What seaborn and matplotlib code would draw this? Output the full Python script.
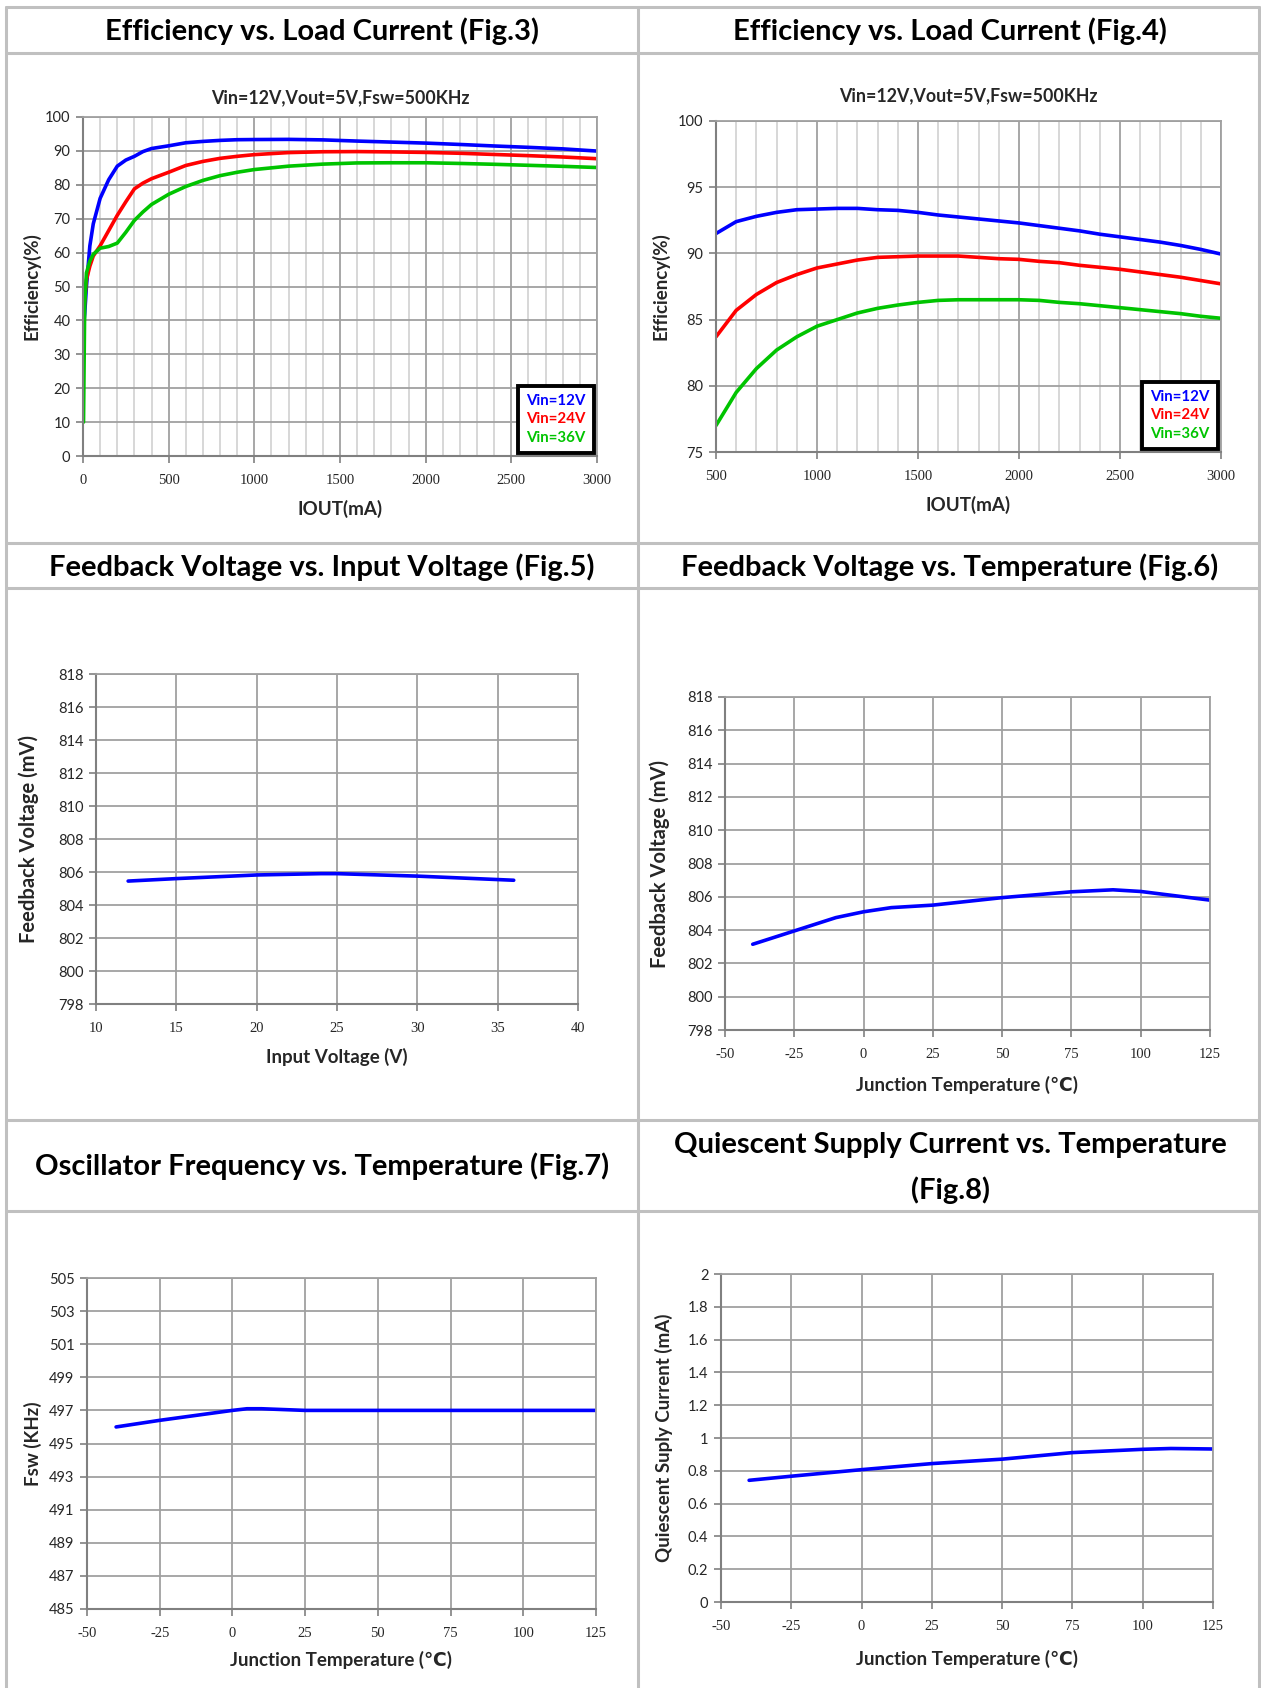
import matplotlib
matplotlib.use('Agg')
import matplotlib.pyplot as plt
import seaborn as sns
from matplotlib.lines import Line2D
from matplotlib.ticker import MultipleLocator, FuncFormatter

# ==========================================
# DATA
# ==========================================
# Fig.3 - efficiency vs load current, full range
iout_fig3 = [3, 10, 20, 40, 60, 100, 150, 200, 250, 300, 350, 400, 500, 600, 700, 800,
             900, 1000, 1200, 1400, 1600, 1800, 2000, 2200, 2400, 2600, 2800, 3000]
eff3_12v = [38, 42, 50, 62, 68.5, 76, 81.5, 85.5, 87.3, 88.4, 89.8, 90.7, 91.5, 92.4, 92.8, 93.1,
            93.3, 93.35, 93.4, 93.25, 92.9, 92.6, 92.3, 91.9, 91.45, 91.05, 90.6, 89.95]
eff3_24v = [40, 46, 52, 56, 59, 62, 66.5, 71, 75, 78.8, 80.5, 81.8, 83.7, 85.7, 86.9, 87.8,
            88.4, 88.9, 89.5, 89.75, 89.8, 89.7, 89.55, 89.3, 88.95, 88.6, 88.2, 87.7]
eff3_36v = [10, 45, 54, 57.5, 59.5, 61.3, 61.8, 62.8, 66, 69.5, 72, 74.2, 77.2, 79.5, 81.3, 82.7,
            83.7, 84.5, 85.5, 86.1, 86.45, 86.5, 86.5, 86.3, 86.05, 85.75, 85.45, 85.1]

# Fig.4 - efficiency vs load current, zoomed 500..3000 mA
iout_fig4 = [500, 600, 700, 800, 900, 1000, 1100, 1200, 1300, 1400, 1500, 1600, 1700,
             1800, 1900, 2000, 2100, 2200, 2300, 2400, 2500, 2600, 2700, 2800, 2900, 3000]
eff4_12v = [91.5, 92.4, 92.8, 93.1, 93.3, 93.35, 93.4, 93.4, 93.3, 93.25, 93.1, 92.9, 92.75,
            92.6, 92.45, 92.3, 92.1, 91.9, 91.7, 91.45, 91.25, 91.05, 90.85, 90.6, 90.3, 89.95]
eff4_24v = [83.7, 85.7, 86.9, 87.8, 88.4, 88.9, 89.2, 89.5, 89.7, 89.75, 89.8, 89.8, 89.8,
            89.7, 89.6, 89.55, 89.4, 89.3, 89.1, 88.95, 88.8, 88.6, 88.4, 88.2, 87.95, 87.7]
eff4_36v = [77.0, 79.5, 81.3, 82.7, 83.7, 84.5, 85.0, 85.5, 85.85, 86.1, 86.3, 86.45, 86.5,
            86.5, 86.5, 86.5, 86.45, 86.3, 86.2, 86.05, 85.9, 85.75, 85.6, 85.45, 85.25, 85.1]

# Fig.5 - feedback voltage vs input voltage
vin_fig5 = [12, 15, 20, 24, 25, 30, 36]
vfb_fig5 = [805.45, 805.6, 805.82, 805.9, 805.9, 805.75, 805.5]

# Fig.6 - feedback voltage vs temperature
temp_fig6 = [-40, -25, -10, 0, 10, 25, 50, 75, 90, 100, 125]
vfb_fig6 = [803.15, 803.95, 804.75, 805.1, 805.35, 805.5, 805.95, 806.3, 806.42, 806.32, 805.8]

# Fig.7 - oscillator frequency vs temperature
temp_fig7 = [-40, -25, 0, 5, 10, 25, 50, 75, 100, 125]
fsw_fig7 = [496.0, 496.4, 497.0, 497.1, 497.1, 497.0, 497.0, 497.0, 497.0, 497.0]

# Fig.8 - quiescent current vs temperature
temp_fig8 = [-40, -25, 0, 25, 50, 75, 100, 110, 125]
iq_fig8 = [0.742, 0.767, 0.807, 0.844, 0.871, 0.911, 0.931, 0.936, 0.933]

# y tick values
yt_fig3 = [0, 10, 20, 30, 40, 50, 60, 70, 80, 90, 100]
yt_fig4 = [75, 80, 85, 90, 95, 100]
yt_vfb = [798, 800, 802, 804, 806, 808, 810, 812, 814, 816, 818]
yt_fig7 = [485, 487, 489, 491, 493, 495, 497, 499, 501, 503, 505]
yt_fig8 = [0, 0.2, 0.4, 0.6, 0.8, 1, 1.2, 1.4, 1.6, 1.8, 2]

BLUE, RED, GREEN = '#0000FF', '#FF0000', '#00C400'
GRID_DARK, GRID_LIGHT = '#A0A0A0', '#D4D4D4'

# ==========================================
# STYLE
# ==========================================
sns.set_theme(style="white")
plt.rcParams['font.family'] = ['Lato', 'DejaVu Sans']
plt.rcParams['axes.linewidth'] = 1.2

W, H = 1261, 1688
fig = plt.figure(figsize=(W / 100, H / 100), dpi=100)
fig.patch.set_facecolor('white')


def box(x0, y0, x1, y1):
    # pixel coords (top-left origin) -> figure fraction rect
    return [x0 / W, 1 - y1 / H, (x1 - x0) / W, (y1 - y0) / H]


# table grid lines
tbl = dict(color='#C0C0C0', linewidth=2.2)
for y in [7, 53, 543, 588, 1120, 1211]:
    fig.add_artist(Line2D([6 / W, 1259 / W], [1 - y / H, 1 - y / H], **tbl))
for x in [6, 638, 1259]:
    fig.add_artist(Line2D([x / W, x / W], [1 - 7 / H, 0], **tbl))

title_kw = dict(ha='center', va='center', fontsize=21, fontweight='bold', color='black')
fig.text(322 / W, 1 - 31 / H, 'Efficiency vs. Load Current (Fig.3)', **title_kw)
fig.text(950 / W, 1 - 31 / H, 'Efficiency vs. Load Current (Fig.4)', **title_kw)
fig.text(322 / W, 1 - 567 / H, 'Feedback Voltage vs. Input Voltage (Fig.5)', **title_kw)
fig.text(950 / W, 1 - 567 / H, 'Feedback Voltage vs. Temperature (Fig.6)', **title_kw)
fig.text(322 / W, 1 - 1166 / H, 'Oscillator Frequency vs. Temperature (Fig.7)', **title_kw)
fig.text(950 / W, 1 - 1145 / H, 'Quiescent Supply Current vs. Temperature', **title_kw)
fig.text(950 / W, 1 - 1190 / H, '(Fig.8)', **title_kw)


def style_axes(ax, xmin, xmax, xmaj, yticks, xminor=None):
    ax.set_xlim(xmin, xmax)
    ax.set_ylim(yticks[0], yticks[-1])
    ax.xaxis.set_major_locator(MultipleLocator(xmaj))
    ax.set_yticks(yticks)
    if xminor:
        ax.xaxis.set_minor_locator(MultipleLocator(xminor))
        ax.grid(True, which='minor', axis='x', color=GRID_LIGHT, linewidth=1.3)
    ax.grid(True, which='major', axis='both', color=GRID_DARK, linewidth=1.3)
    ax.set_axisbelow(True)
    for s in ['top', 'right']:
        ax.spines[s].set_color(GRID_DARK)
        ax.spines[s].set_linewidth(1.3)
    for s in ['left', 'bottom']:
        ax.spines[s].set_color('#808080')
        ax.spines[s].set_linewidth(1.5)
    ax.tick_params(axis='both', which='major', direction='out', length=5, width=1.2,
                   color='#808080', left=True, bottom=True)
    ax.tick_params(axis='x', which='minor', bottom=False)
    ax.tick_params(axis='x', labelsize=10.5, pad=8)
    ax.tick_params(axis='y', labelsize=10.5, pad=4)
    ax.yaxis.set_major_formatter(FuncFormatter(lambda v, p: f'{v:g}'))
    ax.xaxis.set_major_formatter(FuncFormatter(lambda v, p: f'{v:g}'))


def add_legend(ax):
    leg = ax.legend(loc='lower right', handlelength=0, handletextpad=0, frameon=True,
                    fancybox=False, framealpha=1, borderaxespad=0.2, labelcolor='linecolor',
                    prop={'weight': 'bold', 'size': 10.8}, borderpad=0.55, labelspacing=0.3)
    leg.get_frame().set_edgecolor('black')
    leg.get_frame().set_linewidth(2.8)
    for h in leg.legend_handles:
        h.set_visible(False)


label_kw = dict(fontsize=13.5, fontweight='bold', family=['Lato', 'DejaVu Sans'])
LW = 2.6

# ---------- Fig.3 ----------
ax3 = fig.add_axes(box(83, 117, 597, 456))
sns.lineplot(x=iout_fig3, y=eff3_12v, color=BLUE, linewidth=LW, ax=ax3, label='Vin=12V')
sns.lineplot(x=iout_fig3, y=eff3_24v, color=RED, linewidth=LW, ax=ax3, label='Vin=24V')
sns.lineplot(x=iout_fig3, y=eff3_36v, color=GREEN, linewidth=LW, ax=ax3, label='Vin=36V')
style_axes(ax3, 0, 3000, 500, yt_fig3, xminor=100)
ax3.set_title('Vin=12V,Vout=5V,Fsw=500KHz', fontsize=12.8, fontweight='bold', pad=10)
ax3.set_xlabel('IOUT(mA)', labelpad=9, **label_kw)
ax3.set_ylabel('Efficiency(%)', labelpad=3, **label_kw)
add_legend(ax3)

# ---------- Fig.4 ----------
ax4 = fig.add_axes(box(716, 121, 1221, 452))
sns.lineplot(x=iout_fig4, y=eff4_12v, color=BLUE, linewidth=LW, ax=ax4, label='Vin=12V')
sns.lineplot(x=iout_fig4, y=eff4_24v, color=RED, linewidth=LW, ax=ax4, label='Vin=24V')
sns.lineplot(x=iout_fig4, y=eff4_36v, color=GREEN, linewidth=LW, ax=ax4, label='Vin=36V')
style_axes(ax4, 500, 3000, 500, yt_fig4, xminor=100)
ax4.set_title('Vin=12V,Vout=5V,Fsw=500KHz', fontsize=12.8, fontweight='bold', pad=14)
ax4.set_xlabel('IOUT(mA)', labelpad=9, **label_kw)
ax4.set_ylabel('Efficiency(%)', labelpad=6, **label_kw)
add_legend(ax4)

# ---------- Fig.5 ----------
ax5 = fig.add_axes(box(96, 674, 578, 1004))
sns.lineplot(x=vin_fig5, y=vfb_fig5, color=BLUE, linewidth=LW, ax=ax5)
style_axes(ax5, 10, 40, 5, yt_vfb)
ax5.set_xlabel('Input Voltage (V)', labelpad=9, **label_kw)
ax5.set_ylabel('Feedback Voltage (mV)', labelpad=14,
               **{**label_kw, 'fontsize': 14.5})

# ---------- Fig.6 ----------
ax6 = fig.add_axes(box(725, 697, 1210, 1030))
sns.lineplot(x=temp_fig6, y=vfb_fig6, color=BLUE, linewidth=LW, ax=ax6)
style_axes(ax6, -50, 125, 25, yt_vfb)
ax6.set_xlabel('Junction Temperature (℃)', labelpad=11, **label_kw)
ax6.set_ylabel('Feedback Voltage (mV)', labelpad=12,
               **{**label_kw, 'fontsize': 14.5})

# ---------- Fig.7 ----------
ax7 = fig.add_axes(box(87, 1278, 596, 1609))
sns.lineplot(x=temp_fig7, y=fsw_fig7, color=BLUE, linewidth=LW, ax=ax7)
style_axes(ax7, -50, 125, 25, yt_fig7)
ax7.set_xlabel('Junction Temperature (℃)', labelpad=8, **label_kw)
ax7.set_ylabel('Fsw (KHz)', labelpad=5, **label_kw)

# ---------- Fig.8 ----------
ax8 = fig.add_axes(box(721, 1274, 1213, 1602))
sns.lineplot(x=temp_fig8, y=iq_fig8, color=BLUE, linewidth=LW, ax=ax8)
style_axes(ax8, -50, 125, 25, yt_fig8)
ax8.set_xlabel('Junction Temperature (℃)', labelpad=12, **label_kw)
ax8.set_ylabel('Quiescent Suply Current (mA)', labelpad=11, **label_kw)

for ax in [ax3, ax4, ax5, ax6, ax7, ax8]:
    for lab in ax.get_xticklabels():
        lab.set_family('Liberation Serif')

fig.savefig('out.png', dpi=100, facecolor='white')
